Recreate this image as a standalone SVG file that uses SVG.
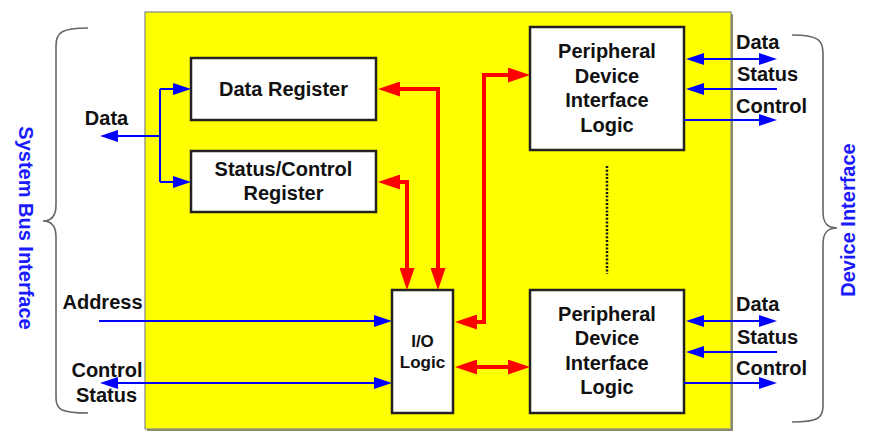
<svg xmlns="http://www.w3.org/2000/svg" width="877" height="445" viewBox="0 0 877 445">
<style>
text{font-family:"Liberation Sans",Arial,sans-serif;font-weight:bold;font-size:20px;fill:#111}
.c{text-anchor:middle}
.io{font-size:17px}
.side{fill:#1a1aff;text-anchor:middle}
.node{fill:#fff;stroke:#222;stroke-width:2.5}
.red{fill:none;stroke:#ff0000;stroke-width:4;marker-start:url(#rh);marker-end:url(#rh)}
.red1{fill:none;stroke:#ff0000;stroke-width:4}
.blue{fill:none;stroke:#0000ff;stroke-width:2}
.brace{fill:none;stroke:#666;stroke-width:1.6}
</style>
<defs>
<marker id="rh" markerUnits="userSpaceOnUse" viewBox="0 0 22 15" markerWidth="22" markerHeight="15" refX="12" refY="7.5" orient="auto-start-reverse"><path d="M0,0 L22,7.5 L0,15 z" fill="#ff0000"/></marker>
<marker id="bh" markerUnits="userSpaceOnUse" viewBox="0 0 18 12" markerWidth="18" markerHeight="12" refX="14" refY="6" orient="auto-start-reverse"><path d="M0,0 L18,6 L0,12 z" fill="#0000ff"/></marker>
</defs>
<rect width="877" height="445" fill="#fff"/>
<g id="board">
<rect x="147" y="14" width="586" height="417" fill="#8a8a6a"/>
<rect x="145" y="12" width="586" height="417" fill="#ffff00" stroke="#888" stroke-width="1.2"/>
</g>
<g id="braces">
<path class="brace" d="M88,28 C62,28 56,32 56,46 L56,205 C56,216 52,221 43,221 C52,221 56,226 56,237 L56,398 C56,410 62,413 88,413"/>
<path class="brace" d="M792,35 C818,35 823,40 823,53 L823,212 C823,223 827,228 837,228 C827,228 823,233 823,244 L823,406 C823,418 818,422 792,422"/>
</g>
<g id="dataRegister"><rect class="node" x="191" y="58" width="185" height="62"/><text class="c" x="283.5" y="95.5">Data Register</text></g>
<g id="statusControlRegister"><rect class="node" x="191" y="151" width="185" height="61"/><text class="c" x="283.5" y="176">Status/Control</text><text class="c" x="283.5" y="200">Register</text></g>
<g id="ioLogic"><rect class="node" x="392" y="290" width="61" height="123"/><text class="c io" x="422.5" y="347">I/O</text><text class="c io" x="422.5" y="368">Logic</text></g>
<g id="peripheralTop"><rect class="node" x="530" y="27" width="154" height="123"/><text class="c" x="607" y="58">Peripheral</text><text class="c" x="607" y="82.5">Device</text><text class="c" x="607" y="107">Interface</text><text class="c" x="607" y="131.5">Logic</text></g>
<g id="peripheralBottom"><rect class="node" x="530" y="290" width="154" height="123"/><text class="c" x="607" y="320.5">Peripheral</text><text class="c" x="607" y="345">Device</text><text class="c" x="607" y="369.5">Interface</text><text class="c" x="607" y="394">Logic</text></g>
<g id="connectors">
<path class="red" d="M388,89 H438 V280"/>
<path class="red" d="M388,182 H407 V280"/>
<path class="red" d="M465,322 H484 V75 H520"/>
<path class="red" d="M465,367 H520"/>
<path class="blue" d="M104,136 H160" marker-start="url(#bh)"/>
<path class="blue" d="M160,89 V182"/>
<path class="blue" d="M160,89 H187" marker-end="url(#bh)"/>
<path class="blue" d="M160,182 H187" marker-end="url(#bh)"/>
<path class="blue" d="M99,321 H388" marker-end="url(#bh)"/>
<path class="blue" d="M104,383 H388" marker-start="url(#bh)" marker-end="url(#bh)"/>
<path class="blue" d="M690,59 H773" marker-start="url(#bh)" marker-end="url(#bh)"/>
<path class="blue" d="M777,89 H690" marker-end="url(#bh)"/>
<path class="blue" d="M684,120 H773" marker-end="url(#bh)"/>
<path class="blue" d="M690,321 H773" marker-start="url(#bh)" marker-end="url(#bh)"/>
<path class="blue" d="M777,352 H690" marker-end="url(#bh)"/>
<path class="blue" d="M684,383 H773" marker-end="url(#bh)"/>
<path d="M607,166 V274" fill="none" stroke="#111" stroke-width="2.5" stroke-dasharray="2 1.7"/>
</g>
<g id="labels">
<text class="c" x="106.5" y="125">Data</text>
<text class="c" x="102.5" y="309">Address</text>
<text class="c" x="107" y="377">Control</text>
<text class="c" x="106.5" y="402">Status</text>
<text x="736" y="49">Data</text>
<text x="737" y="81">Status</text>
<text x="736" y="113">Control</text>
<text x="736" y="311">Data</text>
<text x="737" y="344">Status</text>
<text x="736" y="375">Control</text>
<text class="side" transform="translate(19,228) rotate(90)">System Bus Interface</text>
<text class="side" transform="translate(855,220) rotate(-90)">Device Interface</text>
</g>
</svg>
